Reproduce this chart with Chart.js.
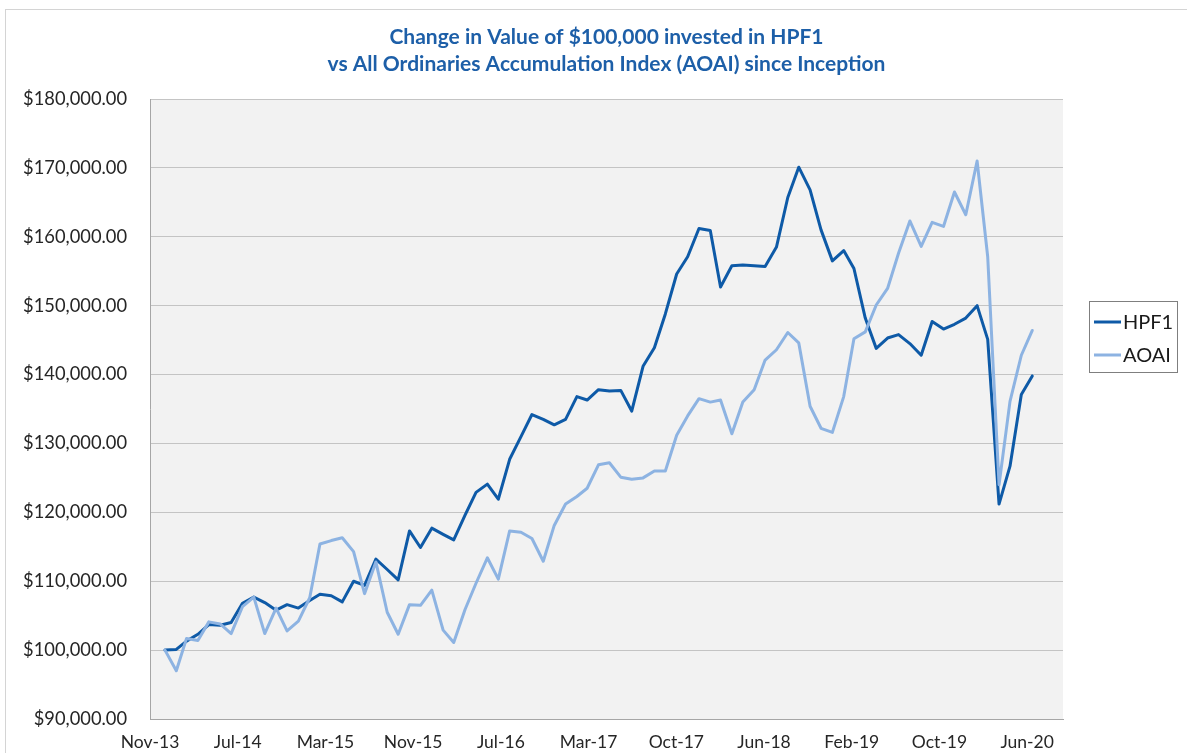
<!DOCTYPE html>
<html>
<head>
<meta charset="utf-8">
<script src="https://cdn.jsdelivr.net/npm/chart.js@4.4.1/dist/chart.umd.min.js"></script>
<style>
  html, body { margin: 0; padding: 0; background: #ffffff; }
  #wrap { position: relative; width: 1187px; height: 753px; }
</style>
</head>
<body>
<div id="wrap"><canvas id="c" width="1187" height="753"></canvas></div>
<script>
// ---- Data (month-end values) ----
const months = [
  '2013-12',
  '2014-01','2014-02','2014-03','2014-04','2014-05','2014-06','2014-07','2014-08','2014-09','2014-10','2014-11','2014-12',
  '2015-01','2015-02','2015-03','2015-04','2015-05','2015-06','2015-07','2015-08','2015-09','2015-10','2015-11','2015-12',
  '2016-01','2016-02','2016-03','2016-04','2016-05','2016-06','2016-07','2016-08','2016-09','2016-10','2016-11','2016-12',
  '2017-01','2017-02','2017-03','2017-04','2017-05','2017-06','2017-07','2017-08','2017-09','2017-10','2017-11','2017-12',
  '2018-01','2018-02','2018-03','2018-04','2018-05','2018-06','2018-07','2018-08','2018-09','2018-10','2018-11','2018-12',
  '2019-01','2019-02','2019-03','2019-04','2019-05','2019-06','2019-07','2019-08','2019-09','2019-10','2019-11','2019-12',
  '2020-01','2020-02','2020-03','2020-04','2020-05','2020-06'
];

const hpf1 = [
  100000, 100100, 101300, 102300, 103700, 103600, 104000, 106800, 107700, 106900,
  105800, 106600, 106100, 107200, 108100, 107900, 107000, 110000, 109400, 113200,
  111700, 110200, 117300, 114900, 117700, 116800, 116000, 119600, 122900, 124100,
  121900, 127700, 131000, 134200, 133500, 132700, 133500, 136800, 136300, 137800,
  137600, 137700, 134700, 141200, 143900, 148800, 154600, 157100, 161200, 160900,
  152700, 155800, 155900, 155800, 155700, 158500, 165700, 170100, 166800, 161000,
  156500, 158000, 155400, 148200, 143800, 145300, 145800, 144500, 142800, 147700,
  146600, 147300, 148200, 150000, 145100, 121200, 126700, 137100, 139800
];

const aoai = [
  100000, 97000, 101700, 101400, 104100, 103800, 102400, 106300, 107700, 102400,
  106100, 102800, 104200, 107600, 115400, 115900, 116300, 114300, 108200, 112800,
  105500, 102300, 106600, 106500, 108700, 102900, 101100, 105900, 109700, 113400,
  110300, 117300, 117100, 116200, 112900, 118100, 121200, 122300, 123500, 126900,
  127200, 125100, 124800, 125000, 126000, 126000, 131200, 134000, 136500, 136000,
  136300, 131400, 136000, 137800, 142100, 143600, 146100, 144600, 135400, 132200,
  131600, 136800, 145200, 146200, 150100, 152500, 157600, 162300, 158600, 162100,
  161500, 166500, 163200, 171000, 157100, 124000, 136100, 142800, 146400
];

const seriesNames = ['HPF1', 'AOAI'];
const xTickLabels = ['Nov-13','Jul-14','Mar-15','Nov-15','Jul-16','Mar-17','Oct-17','Jun-18','Feb-19','Oct-19','Jun-20'];
const titleLines = ['Change in Value of $100,000 invested in HPF1', 'vs All Ordinaries Accumulation Index (AOAI) since Inception'];

// ---- Helpers ----
const DAY = 86400000;
function monthEndDay(s) {
  const [y, m] = s.split('-').map(Number);
  return Date.UTC(y, m, 0) / DAY;
}
const xDays = months.map(monthEndDay);
const AXIS_START = xDays[0] - 41;      // axis origin (date axis like the source)
const TICK_STEP = 240;                 // days between labelled ticks
const AXIS_END = AXIS_START + 2498;

const toPoints = arr => arr.map((v, i) => ({ x: xDays[i], y: v }));

const COLORS = ['#0e5aa7', '#8db3e2'];
const FONT = 'Lato, "Open Sans", "DejaVu Sans", sans-serif';

const bgPlugin = {
  id: 'bg',
  beforeDraw(chart) {
    const { ctx, chartArea: a } = chart;
    ctx.save();
    ctx.fillStyle = '#ffffff';
    ctx.fillRect(0, 0, chart.width, chart.height);
    ctx.strokeStyle = '#d4d4d4';
    ctx.lineWidth = 1;
    ctx.strokeRect(5.5, 9.5, chart.width + 20, chart.height + 20);
    ctx.fillStyle = '#f2f2f2';
    ctx.fillRect(a.left, a.top, a.right - a.left, a.bottom - a.top);
    ctx.restore();
  }
};

const boxLegend = {
  id: 'boxLegend',
  afterDraw(chart) {
    const { ctx, chartArea: a } = chart;
    const left = a.right + 26, top = 301, w = 88, h = 71;
    ctx.save();
    ctx.strokeStyle = '#7f7f7f';
    ctx.lineWidth = 1;
    ctx.strokeRect(left + 0.5, top + 0.5, w, h);
    ctx.font = '20px ' + FONT;
    ctx.textBaseline = 'middle';
    ctx.textAlign = 'left';
    chart.data.datasets.forEach((ds, i) => {
      const y = top + 21 + i * 33;
      ctx.strokeStyle = ds.borderColor;
      ctx.lineWidth = 3;
      ctx.beginPath();
      ctx.moveTo(left + 5, y);
      ctx.lineTo(left + 32, y);
      ctx.stroke();
      ctx.fillStyle = '#1a1a1a';
      ctx.fillText(ds.label, left + 34, y + 1);
    });
    ctx.restore();
  }
};

new Chart(document.getElementById('c'), {
  type: 'line',
  data: {
    datasets: [
      { label: seriesNames[0], data: toPoints(hpf1), borderColor: COLORS[0], backgroundColor: COLORS[0],
        borderWidth: 3, pointRadius: 0, tension: 0, order: 1, borderJoinStyle: 'round', borderCapStyle: 'round' },
      { label: seriesNames[1], data: toPoints(aoai), borderColor: COLORS[1], backgroundColor: COLORS[1],
        borderWidth: 3, pointRadius: 0, tension: 0, order: 0, borderJoinStyle: 'round', borderCapStyle: 'round' }
    ]
  },
  options: {
    responsive: false,
    animation: false,
    devicePixelRatio: 1,
    layout: { padding: { left: 0, right: 124, top: 0, bottom: 0 } },
    plugins: {
      legend: { display: false },
      tooltip: { enabled: false },
      title: {
        display: true,
        fullSize: false,
        text: titleLines,
        color: '#1d5fa8',
        font: { family: FONT, size: 21, weight: 'bold', lineHeight: '27px' },
        padding: { top: 24, bottom: 21 }
      }
    },
    scales: {
      x: {
        type: 'linear',
        min: AXIS_START,
        max: AXIS_END,
        afterBuildTicks: (scale) => {
          scale.ticks = xTickLabels.map((_, k) => ({ value: AXIS_START + k * TICK_STEP }));
        },
        afterFit: (scale) => { scale.height = 34; },
        grid: { display: false, drawTicks: false },
        border: { display: true, color: '#a6a6a6', width: 1 },
        ticks: {
          autoSkip: false,
          maxRotation: 0,
          padding: 13,
          color: '#262626',
          font: { family: FONT, size: 17.5 },
          callback: (v, i) => xTickLabels[i]
        }
      },
      y: {
        min: 90000,
        max: 180000,
        afterFit: (scale) => { scale.width = 150; },
        grid: { color: '#c4c4c4', lineWidth: 1, drawTicks: false },
        border: { display: true, color: '#a6a6a6', width: 1 },
        ticks: {
          stepSize: 10000,
          padding: 23,
          color: '#262626',
          font: { family: FONT, size: 18.3 },
          callback: (v) => '$' + v.toLocaleString('en-US', { minimumFractionDigits: 2, maximumFractionDigits: 2 })
        }
      }
    }
  },
  plugins: [bgPlugin, boxLegend]
});
</script>
</body>
</html>
